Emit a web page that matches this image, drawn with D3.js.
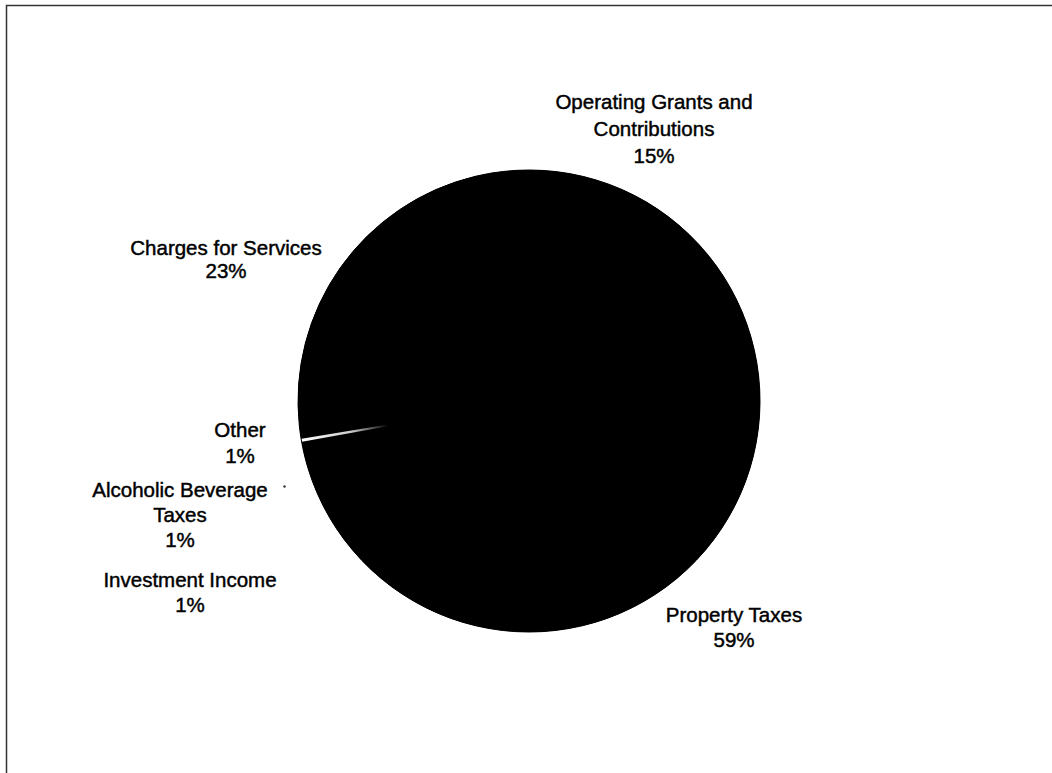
<!DOCTYPE html>
<html>
<head>
<meta charset="utf-8">
<script src="https://cdn.jsdelivr.net/npm/d3@7"></script>
<style>
  html, body { margin: 0; padding: 0; background: #fff; }
  svg { display: block; }
</style>
</head>
<body>
<svg id="chart" width="1052" height="773"></svg>
<script>
// ---- data ----
const categories = ["Operating Grants and Contributions", "Property Taxes", "Investment Income",
                    "Alcoholic Beverage Taxes", "Other", "Charges for Services"];
const values = [15, 59, 1, 1, 1, 23];
const labelLines = [["Operating Grants and", "Contributions"], ["Property Taxes"], ["Investment Income"],
                    ["Alcoholic Beverage", "Taxes"], ["Other"], ["Charges for Services"]];
const percentLabels = ["15%", "59%", "1%", "1%", "1%", "23%"];

// ---- layout (positions only) ----
const W = 1052, H = 773;
const cx = 529, cy = 401, R = 231;
const startOffset = -13.4 * Math.PI / 180;
// label anchor: [centerX, firstBaselineY, lineSpacing]
const labelLayout = [[654, 109, 27], [734, 622, 25], [190, 587, 25], [180, 497, 25], [240, 437, 25.5], [226, 255, 23]];

const svg = d3.select("#chart");

// frame (top and left edge of scanned page)
svg.append("path")
  .attr("d", `M6.5,${H} V5.5 H${W}`)
  .attr("fill", "none")
  .attr("stroke", "#333")
  .attr("stroke-width", 1.5);

const pie = d3.pie().sort(null).value(d => d)
  .startAngle(startOffset).endAngle(startOffset + 2 * Math.PI);
const arcs = pie(values);
const arc = d3.arc().innerRadius(0).outerRadius(R);

const g = svg.append("g").attr("transform", `translate(${cx},${cy})`);
// solid base disc so slice seams do not show
g.append("path")
  .attr("d", d3.arc().innerRadius(0).outerRadius(R).startAngle(0).endAngle(2 * Math.PI)())
  .attr("fill", "#000");
g.selectAll("path.slice")
  .data(arcs)
  .join("path")
  .attr("class", "slice")
  .attr("d", arc)
  .attr("fill", "#000")
  .attr("stroke", "#000")
  .attr("stroke-width", 1)
  .attr("stroke-linejoin", "round");

// thin white highlight along the "Other" slice edge (as in the scan)
const otherIdx = categories.indexOf("Other");
const a0 = arcs[otherIdx].startAngle;
const defs = svg.append("defs");
const grad = defs.append("radialGradient")
  .attr("id", "fade").attr("gradientUnits", "userSpaceOnUse")
  .attr("cx", 0).attr("cy", 0).attr("r", R);
grad.append("stop").attr("offset", "0.62").attr("stop-color", "#fff").attr("stop-opacity", 0);
grad.append("stop").attr("offset", "0.78").attr("stop-color", "#fff").attr("stop-opacity", 0.8);
grad.append("stop").attr("offset", "1").attr("stop-color", "#fff").attr("stop-opacity", 1);
g.append("path")
  .attr("d", d3.arc().innerRadius(R * 0.62).outerRadius(R - 0.5)
    .startAngle(a0 - 0.0065).endAngle(a0 + 0.0065)())
  .attr("fill", "url(#fade)");

// labels
const labels = svg.append("g")
  .attr("font-family", "'Liberation Sans', Arial, sans-serif")
  .attr("font-size", "20.5px")
  .attr("fill", "#000")
  .attr("stroke", "#000")
  .attr("stroke-width", 0.45)
  .attr("text-anchor", "middle");

categories.forEach((c, i) => {
  const [lx, ly, sp] = labelLayout[i];
  const lines = labelLines[i].concat([percentLabels[i]]);
  const t = labels.append("text").attr("x", lx).attr("y", ly);
  lines.forEach((ln, j) => {
    t.append("tspan").attr("x", lx).attr("y", ly + j * sp).text(ln);
  });
});

// stray scan dot near the Alcoholic Beverage label
svg.append("circle").attr("cx", 284.5).attr("cy", 486.5).attr("r", 1.2).attr("fill", "#333");
</script>
</body>
</html>
